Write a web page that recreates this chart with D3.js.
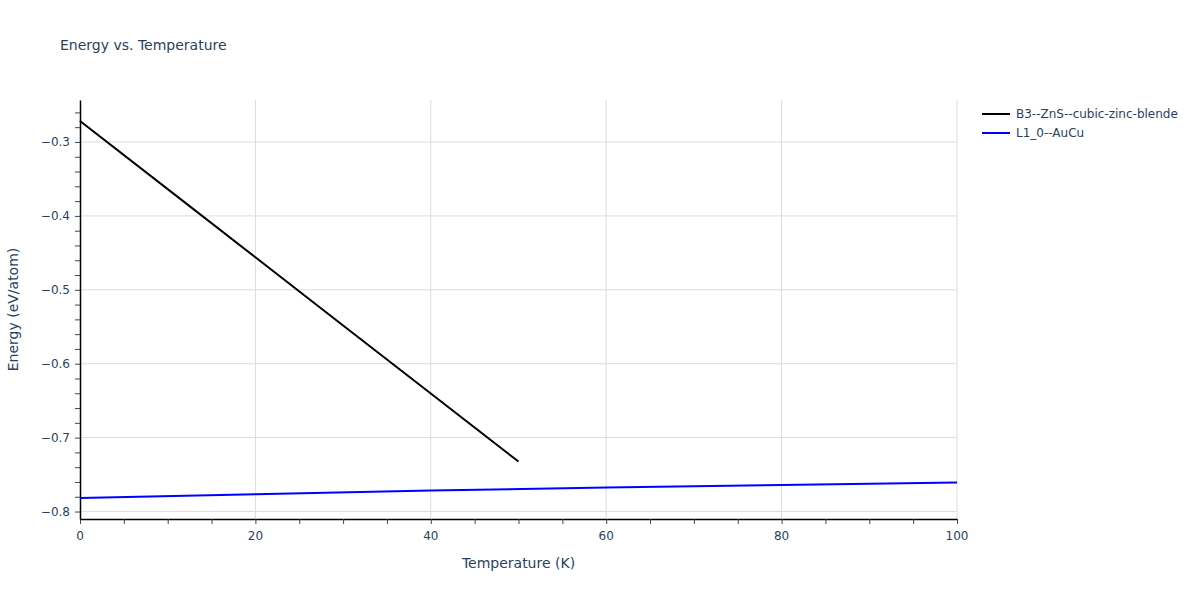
<!DOCTYPE html>
<html>
<head>
<meta charset="utf-8">
<script src="https://cdn.jsdelivr.net/npm/d3@7"></script>
<style>
  body { margin: 0; background: #fff; }
  svg text { font-family: "DejaVu Sans", verdana, arial, sans-serif; fill: #2a3f5f; }
</style>
</head>
<body>
<div id="chart"></div>
<script>
// series
var series_names = ["B3--ZnS--cubic-zinc-blende", "L1_0--AuCu"];
var series_colors = ["#000000", "#0000ff"];

var zns_temps = [0, 10, 20, 30, 40, 50];
var zns_energy = [-0.2716, -0.3638, -0.456, -0.5482, -0.6404, -0.7324];

var aucu_temps = [0, 20, 40, 60, 80, 100];
var aucu_energy = [-0.7818, -0.7765, -0.7716, -0.7676, -0.7642, -0.7608];

var x_ticks = [0, 20, 40, 60, 80, 100];
var y_ticks = [-0.3, -0.4, -0.5, -0.6, -0.7, -0.8];

var width = 1200;
var height = 600;
var margin = { top: 100, right: 243, bottom: 81, left: 80 };
var plotW = width - margin.left - margin.right;
var plotH = height - margin.top - margin.bottom;

var svg = d3
  .select("#chart")
  .append("svg")
  .attr("width", width)
  .attr("height", height);

var x = d3.scaleLinear().domain([0, 100]).range([0, plotW]);
var y = d3.scaleLinear().domain([-0.8101, -0.2432]).range([plotH, 0]);

var g = svg
  .append("g")
  .attr("transform", "translate(" + margin.left + "," + margin.top + ")");

// grid lines
g.append("g")
  .selectAll("line")
  .data(x_ticks.slice(1))
  .enter()
  .append("line")
  .attr("x1", (d) => x(d))
  .attr("x2", (d) => x(d))
  .attr("y1", 0)
  .attr("y2", plotH)
  .attr("stroke", "#dcdcdc")
  .attr("stroke-width", 1);

g.append("g")
  .selectAll("line")
  .data(y_ticks)
  .enter()
  .append("line")
  .attr("x1", 0)
  .attr("x2", plotW)
  .attr("y1", (d) => y(d))
  .attr("y2", (d) => y(d))
  .attr("stroke", "#dcdcdc")
  .attr("stroke-width", 1);

// minor ticks (every 5 K, every 0.02 eV)
var xMinor = d3.range(0, 101, 5);
var yMinor = d3.range(0, 28).map((i) => -0.8 + i * 0.02).filter((v) => v < -0.25);

var xAxis = g
  .append("g")
  .attr("transform", "translate(0," + plotH + ")")
  .call(d3.axisBottom(x).tickValues(xMinor).tickSize(5).tickSizeOuter(0).tickFormat(""));
xAxis.select(".domain").attr("stroke", "#000").attr("stroke-width", 1.5);
xAxis.selectAll(".tick line").attr("stroke", "#444");

xAxis
  .selectAll(".lbl")
  .data(x_ticks)
  .enter()
  .append("text")
  .attr("x", (d) => x(d))
  .attr("y", 21)
  .attr("text-anchor", "middle")
  .style("font-size", "12px")
  .style("fill", "#2a3f5f")
  .text((d) => d);

var yAxis = g
  .append("g")
  .call(d3.axisLeft(y).tickValues(yMinor).tickSize(5).tickSizeOuter(0).tickFormat(""));
yAxis.select(".domain").attr("stroke", "#000").attr("stroke-width", 1.5);
yAxis.selectAll(".tick line").attr("stroke", "#444");

yAxis
  .selectAll(".lbl")
  .data(y_ticks)
  .enter()
  .append("text")
  .attr("x", -10)
  .attr("y", (d) => y(d))
  .attr("dy", "0.35em")
  .attr("text-anchor", "end")
  .style("font-size", "12px")
  .style("fill", "#2a3f5f")
  .text((d) => d3.format(".1f")(d).replace("-", "\u2212"));

// lines
var line = d3
  .line()
  .x((d) => x(d[0]))
  .y((d) => y(d[1]));

var plotData = [
  d3.zip(zns_temps, zns_energy),
  d3.zip(aucu_temps, aucu_energy),
];

g.selectAll(".series")
  .data(plotData)
  .enter()
  .append("path")
  .attr("fill", "none")
  .attr("stroke", (d, i) => series_colors[i])
  .attr("stroke-width", 2)
  .attr("d", line);

// title
svg
  .append("text")
  .attr("x", 60)
  .attr("y", 50)
  .style("font-size", "14px")
  .text("Energy vs. Temperature");

// axis titles
svg
  .append("text")
  .attr("x", margin.left + plotW / 2)
  .attr("y", 568)
  .attr("text-anchor", "middle")
  .style("font-size", "14px")
  .text("Temperature (K)");

svg
  .append("text")
  .attr("transform", "translate(18," + (margin.top + plotH / 2) + ") rotate(-90)")
  .attr("text-anchor", "middle")
  .style("font-size", "14px")
  .text("Energy (eV/atom)");

// legend
var legend = svg.append("g").attr("transform", "translate(982,114)");
series_names.forEach(function (name, i) {
  var row = legend.append("g").attr("transform", "translate(0," + i * 19 + ")");
  row
    .append("line")
    .attr("x1", 0)
    .attr("x2", 28)
    .attr("y1", 0)
    .attr("y2", 0)
    .attr("stroke", series_colors[i])
    .attr("stroke-width", 2);
  row
    .append("text")
    .attr("x", 34)
    .attr("y", 0)
    .attr("dy", "0.35em")
    .style("font-size", "12px")
    .text(name);
});
</script>
</body>
</html>
